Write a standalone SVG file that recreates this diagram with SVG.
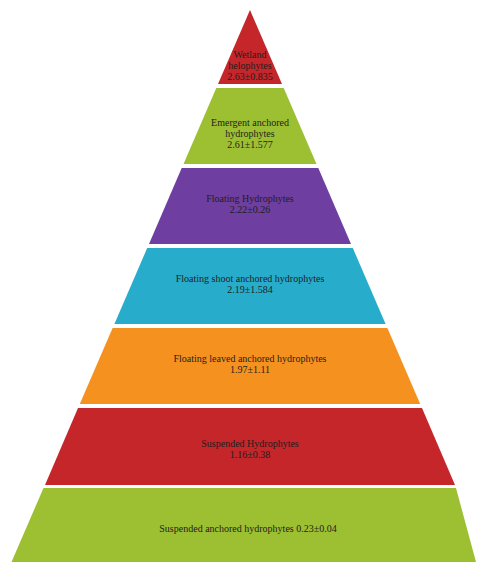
<svg xmlns="http://www.w3.org/2000/svg" width="477" height="562" viewBox="0 0 477 562">
<style>
.t{font-family:"Liberation Serif","Times New Roman",serif;font-size:10px;fill:#1e1e1e;text-anchor:middle}
.red{fill:#C5262A}
.grn{fill:#9DC032}
.pur{fill:#6E3FA0}
.cya{fill:#27ADCB}
.org{fill:#F5921F}
</style>
<rect width="477" height="562" fill="#fff"/>
<g id="layer1">
<polygon class="red" points="250,10 282,84 218,84"/>
<text class="t" x="250" y="58">Wetland</text>
<text class="t" x="250" y="69">helophytes</text>
<text class="t" x="250" y="80">2.63±0.835</text>
</g>
<g id="layer2">
<polygon class="grn" points="216.3,88 283.7,88 316.5,164 183.5,164"/>
<text class="t" x="250" y="126">Emergent anchored</text>
<text class="t" x="250" y="137">hydrophytes</text>
<text class="t" x="250" y="148">2.61±1.577</text>
</g>
<g id="layer3">
<polygon class="pur" points="181.7,168 318.3,168 351,244 149,244"/>
<text class="t" x="250" y="202">Floating Hydrophytes</text>
<text class="t" x="250" y="213">2.22±0.26</text>
</g>
<g id="layer4">
<polygon class="cya" points="147.2,248 352.8,248 385.6,324 114.4,324"/>
<text class="t" x="250" y="282">Floating shoot anchored hydrophytes</text>
<text class="t" x="250" y="293">2.19±1.584</text>
</g>
<g id="layer5">
<polygon class="org" points="112.6,328 387.4,328 420.2,404 79.8,404"/>
<text class="t" x="250" y="362">Floating leaved anchored hydrophytes</text>
<text class="t" x="250" y="373">1.97±1.11</text>
</g>
<g id="layer6">
<polygon class="red" points="78,408 422,408 455,485 45,485"/>
<text class="t" x="250" y="447">Suspended Hydrophytes</text>
<text class="t" x="250" y="458">1.16±0.38</text>
</g>
<g id="layer7">
<polygon class="grn" points="43.5,488 456,488 476,562 11.5,562"/>
<text class="t" x="248" y="532">Suspended anchored hydrophytes 0.23±0.04</text>
</g>
</svg>
